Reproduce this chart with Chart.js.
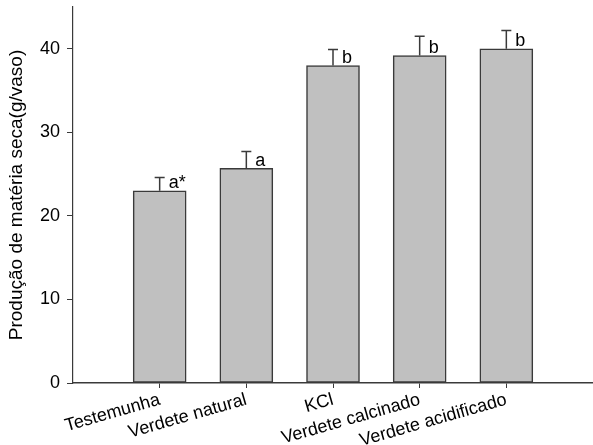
<!DOCTYPE html>
<html>
<head>
<meta charset="utf-8">
<script src="https://cdn.jsdelivr.net/npm/chart.js@4/dist/chart.umd.min.js"></script>
<style>
html,body{margin:0;padding:0;background:#fff;}
#c{display:block;}
</style>
</head>
<body>
<canvas id="c" width="593" height="445"></canvas>
<script>
const categories = ['Testemunha', 'Verdete natural', 'KCl', 'Verdete calcinado', 'Verdete acidificado'];
const means = [23.0, 25.7, 38.0, 39.2, 40.0];
const errors = [1.6, 2.0, 1.9, 2.3, 2.2];
const letters = ['a*', 'a', 'b', 'b', 'b'];
const yTicks = [0, 10, 20, 30, 40];
const yTitle = 'Produção de matéria seca(g/vaso)';

const FONT = "'Liberation Sans', Arial, sans-serif";
Chart.defaults.color = '#000';
Chart.defaults.font.family = FONT;

const points = means.map((v, i) => ({x: i + 1, y: v}));

const errPlugin = {
  id: 'errbars',
  afterDatasetsDraw(chart) {
    const ctx = chart.ctx;
    const meta = chart.getDatasetMeta(0);
    const ys = chart.scales.y;
    ctx.save();
    meta.data.forEach((bar, i) => {
      const x = bar.x;
      const top = ys.getPixelForValue(means[i]);
      const capY = ys.getPixelForValue(means[i] + errors[i]);
      ctx.strokeStyle = '#3a3a3a';
      ctx.lineWidth = 1.5;
      ctx.beginPath();
      ctx.moveTo(x, top);
      ctx.lineTo(x, capY);
      ctx.moveTo(x - 5, capY);
      ctx.lineTo(x + 5, capY);
      ctx.stroke();
      ctx.fillStyle = '#000';
      ctx.font = '18px ' + FONT;
      ctx.textAlign = 'left';
      ctx.textBaseline = 'alphabetic';
      ctx.fillText(letters[i], x + 9, top - 2.5);
    });
    ctx.restore();
  }
};

new Chart(document.getElementById('c'), {
  type: 'bar',
  data: {
    datasets: [{
      data: points,
      backgroundColor: '#c0c0c0',
      borderColor: '#3a3a3a',
      borderWidth: 1.5,
      borderSkipped: false,
      barThickness: 53
    }]
  },
  options: {
    responsive: false,
    animation: false,
    devicePixelRatio: 1,
    layout: {padding: {top: 7, right: 0, left: 0, bottom: 0}},
    plugins: {legend: {display: false}, tooltip: {enabled: false}},
    scales: {
      x: {
        type: 'linear',
        min: 0,
        max: 6,
        offset: false,
        afterBuildTicks(scale) {
          scale.ticks = categories.map((c, i) => ({value: i + 1}));
        },
        afterFit(scale) {
          scale.height = 62;
          scale.paddingLeft = 0; scale.paddingRight = 0;
        },
        grid: {display: true, offset: false, drawOnChartArea: false, drawTicks: true, tickLength: 5, tickColor: '#3a3a3a'},
        border: {display: true, color: '#3a3a3a', width: 1.5},
        ticks: {
          autoSkip: false,
          minRotation: 16,
          maxRotation: 16,
          padding: 1,
          font: {size: 18},
          callback: (v) => categories[v - 1]
        }
      },
      y: {
        min: 0,
        max: 45,
        afterBuildTicks(scale) {
          scale.ticks = yTicks.map(v => ({value: v}));
        },
        afterFit(scale) {
          scale.width = 73;
          scale.paddingTop = 0; scale.paddingBottom = 0;
        },
        grid: {display: true, drawOnChartArea: false, drawTicks: true, tickLength: 6, tickColor: '#3a3a3a'},
        border: {display: true, color: '#3a3a3a', width: 1.2},
        ticks: {padding: 7, font: {size: 18}},
        title: {display: true, text: yTitle, font: {size: 19}, padding: {top: 5, bottom: 0}}
      }
    }
  },
  plugins: [errPlugin]
});
</script>
</body>
</html>
